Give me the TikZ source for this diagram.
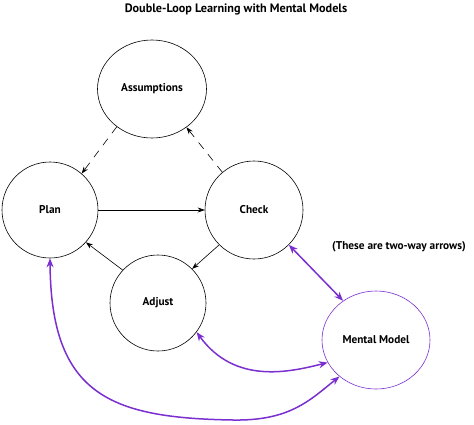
\documentclass[tikz,border=0pt]{standalone}
\usepackage{fontspec}
\setmainfont{PT Sans}
\usetikzlibrary{arrows.meta,shapes.geometric}
\definecolor{purp}{HTML}{7B2FD0}
\begin{document}
\begin{tikzpicture}[x=1pt,y=-1pt,
  txt/.style={font=\bfseries\fontsize{11.3}{13}\selectfont},
  circ/.style={draw,circle,line width=0.6pt,txt,inner sep=0pt},
  ell/.style={draw,ellipse,line width=0.6pt,txt,inner sep=0pt},
  blk/.style={line width=0.6pt,-{Stealth[length=7pt,width=5pt]}},
  dsh/.style={blk,dash pattern=on 8pt off 7pt},
  two/.style={line width=1.5pt,color=purp,{Stealth[length=9pt,width=7pt]}-{Stealth[length=9pt,width=7pt]}}]
\useasboundingbox (0,0) rectangle (474,424);
\node[font=\bfseries\fontsize{12.2}{14}\selectfont] (T) at (236,9) {Double-Loop Learning with Mental Models};
\node[ell,minimum width=109pt,minimum height=98pt] (A) at (152,89) {Assumptions};
\node[circ,minimum size=96pt] (P) at (50,210) {Plan};
\node[circ,minimum size=98pt] (C) at (254,210) {Check};
\node[circ,minimum size=96pt] (J) at (158,303) {Adjust};
\node[ell,draw=purp,minimum width=108pt,minimum height=98pt] (M) at (376,340) {Mental Model};
\node[txt] (N) at (399,247) {(These are two-way arrows)};
\coordinate (B) at (233,420);
\draw[dsh] (A.227) -- (P.49);
\draw[dsh] (C.130) -- (A.-48);
\draw[blk] (P.east) -- (C.west);
\draw[blk] (C.225) -- (J.45);
\draw[blk] (J.137) -- (P.-42);
\draw[two] (C.-45) -- (M.130);
\draw[two] (J.-37) .. controls (235,385) and (290,372) .. (M.205);
\draw[two] (P.270) .. controls (51,395) and (110,418) .. (B) .. controls (290,421) and (310,400) .. (M.225);
\end{tikzpicture}
\end{document}
